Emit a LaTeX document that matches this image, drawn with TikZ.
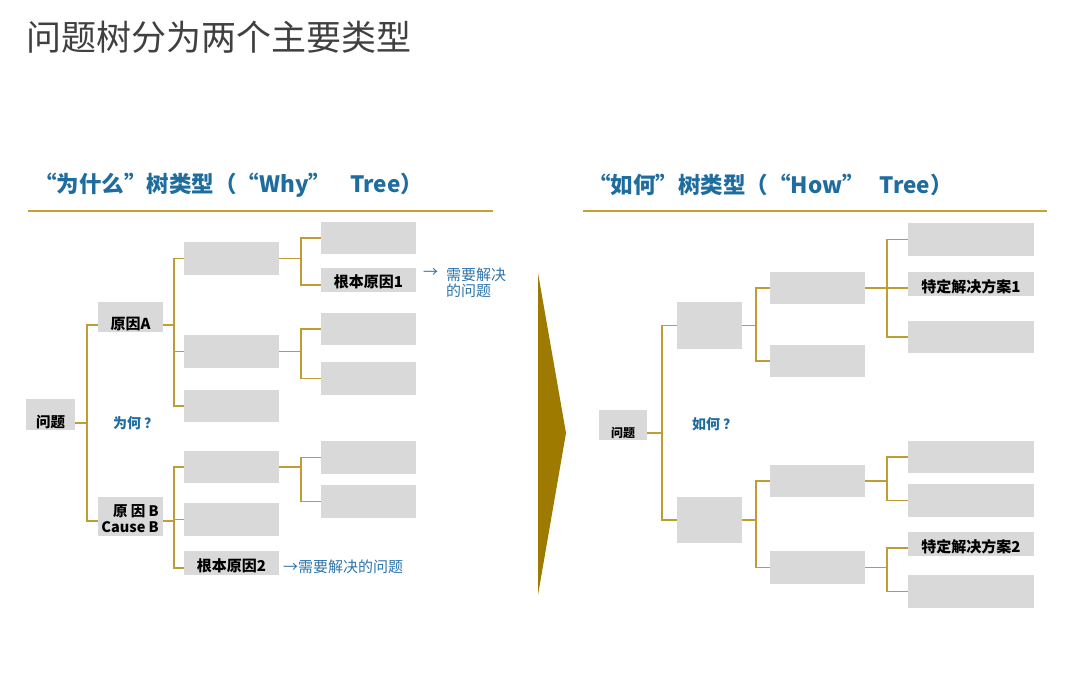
\documentclass[tikz,border=0pt]{standalone}
\usepackage{fontspec}
\setmainfont{Noto Sans CJK SC}
\definecolor{boxgray}{RGB}{217,217,217}
\definecolor{linegold}{RGB}{192,156,52}
\definecolor{rulegold}{RGB}{200,160,50}
\definecolor{arrowgold}{RGB}{158,122,0}
\definecolor{hblue}{RGB}{31,108,158}
\definecolor{tblue}{RGB}{46,117,170}
\definecolor{titlegray}{RGB}{64,64,64}
\tikzset{
  box/.style={fill=boxgray, inner sep=0pt, draw=none},
  conn/.style={draw=linegold, line width=1.1pt},
  lbl/.style={inner sep=0pt, font=\bfseries\fontsize{15}{17}\selectfont, text=black},
  why/.style={inner sep=0pt, font=\bfseries\fontsize{14}{16}\selectfont, text=hblue},
  note/.style={inner sep=0pt, font=\fontsize{15}{16}\selectfont, text=tblue},
  hdr/.style={inner sep=0pt, anchor=west, font=\bfseries\fontsize{22.5}{26}\selectfont, text=hblue},
}
\begin{document}
\begin{tikzpicture}[x=1pt,y=-1pt]
\fill[white] (0,0) rectangle (1080,700);
\useasboundingbox (0,0) rectangle (1080,700);

% title
\node[inner sep=0pt, anchor=west, font=\fontsize{35}{40}\selectfont, text=titlegray] (title) at (26,37) {问题树分为两个主要类型};

% headers
\node[hdr] (hL) at (34,185) {“为什么”树类型（“Why”\hspace{19pt}Tree）};
\node[hdr] (hR) at (588,185) {“如何”树类型（“How”\hspace{15pt}Tree）};
\draw[draw=rulegold, line width=2pt] (28,211) coordinate (rL1) -- (493,211) coordinate (rL2);
\draw[draw=rulegold, line width=2pt] (583,211) coordinate (rR1) -- (1047,211) coordinate (rR2);

% middle arrow
\fill[arrowgold] (538,273) -- (566,433) -- (538,595) -- cycle;

% ---------------- left tree ----------------
\node[box, minimum width=49pt, minimum height=31pt] (L0) at (50.5,414.5) {};
\node[lbl, font=\bfseries\fontsize{14.5}{16}\selectfont] (L0t) at (50.5,422) {问题};
\node[box, minimum width=65pt, minimum height=30pt] (LA) at (130.5,317) {};
\node[lbl] (LAt) at (130.5,324) {原因A};
\node[box, minimum width=65pt, minimum height=39pt] (LB) at (130.5,516.5) {};
\node[lbl, anchor=east, align=right, font=\bfseries\fontsize{14.5}{16}\selectfont] (LBt) at (159,519) {原 因 B\\Cause B};

\node[why, anchor=west] (whyq) at (113,423) {为何\hspace{3pt}？};

\foreach \n/\y/\h in {A1/258.5/33, A2/351.5/33, A3/406/32, B1/467/32, B2/519.5/33}
  \node[box, minimum width=95pt, minimum height=\h pt] (\n) at (231.5,\y) {};
\node[box, minimum width=95pt, minimum height=24pt] (B3) at (231.5,563) {};
\node[lbl] (B3t) at (231.5,566) {根本原因2};

\foreach \n/\y/\h in {A1a/238/32, A2a/329/32, A2b/378.5/33, B1a/457.5/33, B1b/501.5/33}
  \node[box, minimum width=95pt, minimum height=\h pt] (\n) at (368.5,\y) {};
\node[box, minimum width=95pt, minimum height=24pt] (A1b) at (368.5,280) {};
\node[lbl] (A1bt) at (368.5,282) {根本原因1};

\node[note, anchor=center] (n1a) at (430.5,273) {→};
\node[note, anchor=north west, align=left] (n1) at (446,268) {需要解决\\的问题};
\node[note, anchor=west] (n2) at (283,567) {→需要解决的问题};

% left connectors
\coordinate (t0) at (87,423);
\draw[conn] ([yshift=-8.5pt]L0.east) -- (t0);
\draw[conn] ([yshift=-8pt]LA.west) -| (t0);
\draw[conn] ([yshift=-4.5pt]LB.west) -| (t0);

\coordinate (fA) at (174,325);
\draw[conn] ([yshift=-8pt]LA.east) -- (fA);
\foreach \c in {A1,A2,A3} \draw[conn] (\c.west) -| (fA);

\coordinate (fB) at (174,521);
\draw[conn] ([yshift=-4.5pt]LB.east) -- (fB);
\draw[conn] (B1.west) -| (fB);
\draw[conn] (B2.west) -| (fB);
\draw[conn] ([yshift=-5pt]B3.west) -| (fB);

\coordinate (fA1) at (301,258.5);
\draw[conn] (A1.east) -- (fA1);
\draw[conn] (A1a.west) -| (fA1);
\draw[conn] ([yshift=-5pt]A1b.west) -| (fA1);

\coordinate (fA2) at (301,351.5);
\draw[conn] (A2.east) -- (fA2);
\draw[conn] (A2a.west) -| (fA2);
\draw[conn] (A2b.west) -| (fA2);

\coordinate (fB1) at (301,467);
\draw[conn] (B1.east) -- (fB1);
\draw[conn] (B1a.west) -| (fB1);
\draw[conn] (B1b.west) -| (fB1);

% ---------------- right tree ----------------
\node[box, minimum width=48pt, minimum height=30pt] (R0) at (623,425) {};
\node[lbl, font=\bfseries\fontsize{12}{14}\selectfont] (R0t) at (623,433) {问题};
\node[why, anchor=west] (howq) at (692,424) {如何\hspace{3pt}？};

\node[box, minimum width=65pt, minimum height=47pt] (H1) at (709.5,325.5) {};
\node[box, minimum width=65pt, minimum height=46pt] (H2) at (709.5,520) {};

\foreach \n/\y in {H1a/288, H1b/361, H2a/481, H2b/567.5}
  \node[box, minimum width=95pt, minimum height=32.5pt] (\n) at (817.5,\y) {};

\foreach \n/\y/\h in {H1a1/239.5/33, H1a3/337/32, H2a1/457/32, H2a2/500.5/33, H2b2/591.5/33}
  \node[box, minimum width=126pt, minimum height=\h pt] (\n) at (971,\y) {};
\node[box, minimum width=126pt, minimum height=24pt] (H1a2) at (971,284) {};
\node[lbl] (H1a2t) at (971,287) {特定解决方案1};
\node[box, minimum width=126pt, minimum height=24pt] (H2b1) at (971,544) {};
\node[lbl] (H2b1t) at (971,547) {特定解决方案2};

% right connectors
\coordinate (fR) at (662,433);
\draw[conn] ([yshift=-8pt]R0.east) -- (fR);
\draw[conn] (H1.west) -| (fR);
\draw[conn] (H2.west) -| (fR);

\coordinate (fH1) at (756,325.5);
\draw[conn] (H1.east) -- (fH1);
\draw[conn] (H1a.west) -| (fH1);
\draw[conn] (H1b.west) -| (fH1);

\coordinate (fH2) at (756,520);
\draw[conn] (H2.east) -- (fH2);
\draw[conn] (H2a.west) -| (fH2);
\draw[conn] (H2b.west) -| (fH2);

\coordinate (fH1a) at (887,288);
\draw[conn] (H1a.east) -- (fH1a);
\draw[conn] (H1a1.west) -| (fH1a);
\draw[conn] ([yshift=-4pt]H1a2.west) -| (fH1a);
\draw[conn] (H1a3.west) -| (fH1a);

\coordinate (fH2a) at (887,481);
\draw[conn] (H2a.east) -- (fH2a);
\draw[conn] (H2a1.west) -| (fH2a);
\draw[conn] (H2a2.west) -| (fH2a);

\coordinate (fH2b) at (887,567.5);
\draw[conn] (H2b.east) -- (fH2b);
\draw[conn] ([yshift=-4pt]H2b1.west) -| (fH2b);
\draw[conn] (H2b2.west) -| (fH2b);
\end{tikzpicture}
\end{document}
